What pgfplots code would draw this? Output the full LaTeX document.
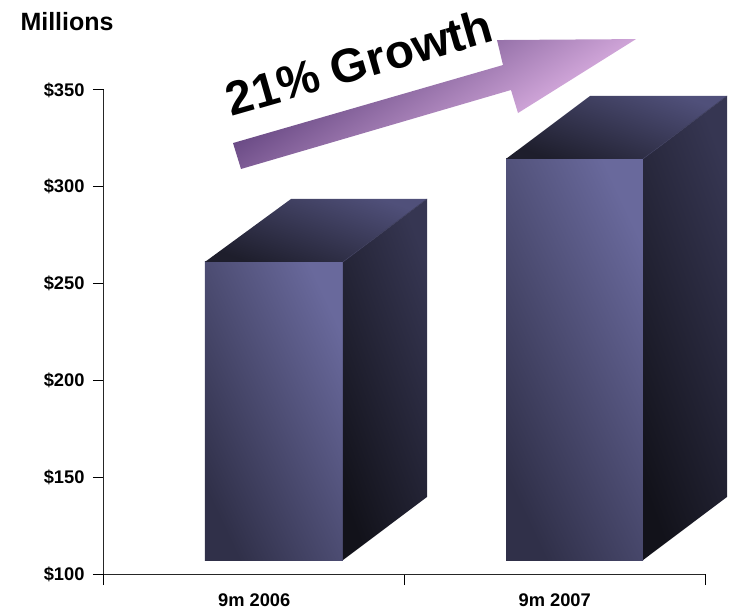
\documentclass[border=0pt]{standalone}
\usepackage{fontspec}
\setmainfont{Liberation Sans}
\usepackage{pgfplots}
\pgfplotsset{compat=1.18}

\definecolor{frontlo}{HTML}{303049}
\definecolor{frontmid}{HTML}{5A5A84}
\definecolor{fronthi}{HTML}{69699C}
\definecolor{toplo}{HTML}{1E1E2C}
\definecolor{tophi}{HTML}{50507A}
\definecolor{sidelo}{HTML}{12121A}
\definecolor{sidehi}{HTML}{363652}
\definecolor{arrowlo}{HTML}{4B2F6C}
\definecolor{arrowmid}{HTML}{A97FDE}
\definecolor{arrowhi}{HTML}{FFCFFF}

\pgfplotsset{
  front/.style={draw=none, top color=fronthi, middle color=frontmid, bottom color=frontlo, shading angle=-65},
  topface/.style={draw=none, top color=tophi, bottom color=toplo, shading angle=-20},
  side/.style={draw=none, top color=sidehi, bottom color=sidelo, shading angle=-70},
  edge/.style={color=black!40!fronthi, line width=0.6bp},
}

\begin{document}
\begin{tikzpicture}
\path[use as bounding box] (-104bp,-37bp) rectangle (629bp,574bp);
\begin{axis}[
    scale only axis,
    width=601bp,
    height=484bp,
    at={(0,0)},
    anchor=south west,
    clip=false,
    xmin=0, xmax=2,
    ymin=100, ymax=350,
    axis x line*=bottom,
    axis y line*=left,
    axis line style={line width=1bp, black!85},
    xtick={0,1,2},
    x tick label as interval,
    xticklabels={9m 2006, 9m 2007},
    ytick={100,150,200,250,300,350},
    yticklabels={\$100,\$150,\$200,\$250,\$300,\$350},
    tick align=outside,
    major tick length=11bp,
    tick style={line width=1bp, black},
    minor tick num=0,
    tick label style={font=\fontsize{18.3bp}{20bp}\selectfont\bfseries},
    x tick label style={yshift=-5bp},
    y tick label style={xshift=-5bp},
]
% bar 2006
\addplot[front] coordinates {(0.3361,107.2) (0.7953,107.2) (0.7953,261.2) (0.3361,261.2) (0.3361,107.2)};
\addplot[topface] coordinates {(0.3361,261.2) (0.6223,293.7) (1.0749,293.7) (0.7953,261.2) (0.3361,261.2)};
\addplot[side] coordinates {(0.7953,107.2) (1.0749,139.8) (1.0749,293.7) (0.7953,261.2) (0.7953,107.2)};
\addplot[edge] coordinates {(0.7953,261.2) (1.0749,293.7)};
% bar 2007
\addplot[front] coordinates {(1.3378,107.2) (1.7937,107.2) (1.7937,314.4) (1.3378,314.4) (1.3378,107.2)};
\addplot[topface] coordinates {(1.3378,314.4) (1.6173,346.9) (2.0732,346.9) (1.7937,314.4) (1.3378,314.4)};
\addplot[side] coordinates {(1.7937,107.2) (2.0732,139.8) (2.0732,346.9) (1.7937,314.4) (1.7937,107.2)};
\addplot[edge] coordinates {(1.7937,314.4) (2.0732,346.9)};
% growth arrow
\addplot[draw=none, top color=arrowlo, middle color=arrowmid, bottom color=arrowhi, shading angle=33] coordinates {
  (0.4293,322.6) (1.3278,362.9) (1.3078,375.8) (1.7704,376.3) (1.3777,338.1) (1.3544,350.0) (0.4559,309.2) (0.4293,322.6)};

\node[rotate=16, text=black, font=\fontsize{47.5bp}{50bp}\selectfont\bfseries] at (axis cs:0.8491,364.3) {21\% Growth};
\node[font=\fontsize{25bp}{27bp}\selectfont\bfseries] at (axis cs:-0.123,385.1) {Millions};
\end{axis}
\end{tikzpicture}
\end{document}
